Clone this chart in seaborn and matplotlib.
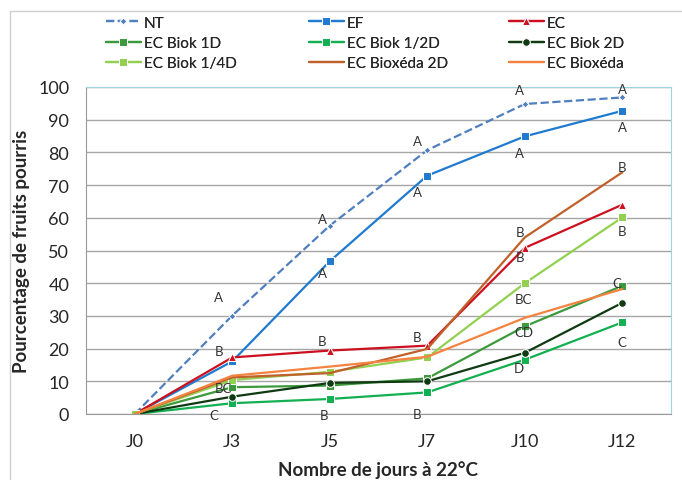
import numpy as np
import pandas as pd
import matplotlib
matplotlib.use('Agg')
import matplotlib.pyplot as plt
import seaborn as sns
from matplotlib.patches import Rectangle

days = ['J0', 'J3', 'J5', 'J7', 'J10', 'J12']

nt = [0, 30.1, 57.6, 80.7, 94.8, 96.8]
ef = [0, 16.1, 46.7, 72.9, 84.9, 92.7]
ec = [0, 17.3, 19.4, 20.9, 50.8, 64.0]
biok_1d = [0, 8.2, 8.7, 10.9, 26.8, 39.2]
biok_half = [0, 3.3, 4.6, 6.6, 16.6, 28.0]
biok_2d = [0, 5.3, 9.5, 10.0, 18.7, 34.0]
biok_quarter = [0, 10.4, 12.9, 17.3, 40.0, 60.1]
bioxeda_2d = [0, 11.2, 12.5, 19.9, 54.0, 73.9]
bioxeda = [0, 11.7, 14.5, 17.5, 29.4, 38.2]

# letters from the statistical test (series, day index, letter)
letters = [
    ('NT', 1, 'A'), ('NT', 2, 'A'), ('NT', 3, 'A'), ('NT', 4, 'A'), ('NT', 5, 'A'),
    ('EF', 2, 'A'), ('EF', 3, 'A'), ('EF', 4, 'A'), ('EF', 5, 'A'),
    ('EC', 1, 'B'), ('EC', 2, 'B'), ('EC', 3, 'B'), ('EC', 4, 'B'),
    ('EC Bioxéda 2D', 4, 'B'), ('EC Bioxéda 2D', 5, 'B'),
    ('EC Biok 1/4D', 4, 'BC'), ('EC Biok 1/4D', 5, 'B'),
    ('EC Biok 1D', 1, 'BC'), ('EC Biok 1D', 4, 'CD'), ('EC Biok 1D', 5, 'C'),
    ('EC Biok 1/2D', 1, 'C'), ('EC Biok 1/2D', 2, 'B'), ('EC Biok 1/2D', 3, 'B'),
    ('EC Biok 1/2D', 4, 'D'), ('EC Biok 1/2D', 5, 'C'),
]
# label offsets in pixels, same order as letters
offsets = [
    (-14, 19), (-7, 7), (-10, 9), (-5, 14), (0, 8),
    (-7, -12), (-10, -16), (-5, -17), (0, -16),
    (-13, 6), (-8, 10), (-10, 9), (-5, -9),
    (-5, 5), (0, 5),
    (-1, -16), (0, -14),
    (-9, -1), (-1, -6), (-5, 3),
    (-18, -12), (-6, -16), (-10, -22),
    (-6, -8), (0, -20),
]

series = {
    'NT': nt, 'EF': ef, 'EC': ec,
    'EC Biok 1D': biok_1d, 'EC Biok 1/2D': biok_half, 'EC Biok 2D': biok_2d,
    'EC Biok 1/4D': biok_quarter, 'EC Bioxéda 2D': bioxeda_2d, 'EC Bioxéda': bioxeda,
}
styles = {
    'NT': dict(color='#4f7fbf', marker='D', markersize=3.5, linestyle='--', dashes=(4, 3)),
    'EF': dict(color='#1f7ad0', marker='s', markersize=5.5, linestyle='-'),
    'EC': dict(color='#cc1020', marker='^', markersize=6, linestyle='-'),
    'EC Biok 1D': dict(color='#3c9a3c', marker='s', markersize=5.5, linestyle='-'),
    'EC Biok 1/2D': dict(color='#12b050', marker='s', markersize=5.5, linestyle='-'),
    'EC Biok 2D': dict(color='#0f3a12', marker='o', markersize=5.5, linestyle='-'),
    'EC Biok 1/4D': dict(color='#92d050', marker='s', markersize=5.5, linestyle='-'),
    'EC Bioxéda 2D': dict(color='#c0602a', marker=None, linestyle='-'),
    'EC Bioxéda': dict(color='#f58240', marker=None, linestyle='-'),
}

sns.set_style('white')
plt.rcParams['font.family'] = ['Lato', 'DejaVu Sans']

fig = plt.figure(figsize=(6.82, 4.81), dpi=100)
ax = fig.add_axes([86 / 682, 1 - 415 / 481, 585 / 682, 327 / 481])

x = np.arange(len(days))
handles = {}
for name, vals in series.items():
    st = dict(styles[name])
    sns.lineplot(x=x, y=vals, ax=ax, linewidth=1.6, label=name, **st)
    handles[name] = ax.get_lines()[-1]
ax.get_legend().remove()

for (name, i, txt), (dx, dy) in zip(letters, offsets):
    ax.annotate(txt, xy=(i, series[name][i]), xytext=(dx, dy), textcoords='offset pixels',
                ha='center', va='center', fontsize=9.5, color='#333333')

ax.set_xlim(-0.5, 5.5)
ax.set_ylim(0, 100)
ax.set_yticks(range(0, 101, 10))
ax.set_xticks(x)
ax.set_xticklabels(days)
ax.set_xticks(np.arange(-0.5, 6, 1), minor=True)
ax.tick_params(axis='x', which='major', length=0, pad=14, labelsize=13)
ax.tick_params(axis='x', which='minor', length=6, color='#999999', direction='out')
ax.tick_params(axis='y', length=6, color='#999999', direction='out', labelsize=13, pad=6)
ax.yaxis.grid(True, color='#a6a6a6', linewidth=1)
ax.set_axisbelow(True)
for side in ['left', 'bottom']:
    ax.spines[side].set_color('#999999')
for side in ['top', 'right']:
    ax.spines[side].set_color('#9fd4e2')
ax.set_ylabel('Pourcentage de fruits pourris', fontsize=13.5, fontweight='bold', labelpad=6)
ax.set_xlabel('Nombre de jours à 22°C', fontsize=13.5, fontweight='bold', labelpad=8)

# legend: three columns placed by hand, row-wise order as in the reference
columns = [['NT', 'EC Biok 1D', 'EC Biok 1/4D'],
           ['EF', 'EC Biok 1/2D', 'EC Bioxéda 2D'],
           ['EC', 'EC Biok 2D', 'EC Bioxéda']]
col_x = [92, 295, 495]
for names, cx in zip(columns, col_x):
    leg = fig.legend([handles[n] for n in names], names, loc='upper left',
                     bbox_to_anchor=(cx / 682, 1 - 3 / 481), frameon=False, fontsize=11,
                     handlelength=2.3, handletextpad=0.2, labelspacing=0.4)
    fig.add_artist(leg)

fig.patches.append(Rectangle((10 / 682, -0.1), 1.2, 1 - 12 / 481 + 0.1, transform=fig.transFigure,
                             fill=False, edgecolor='#d0d0d0', linewidth=1))

fig.savefig('out.png', dpi=100)
